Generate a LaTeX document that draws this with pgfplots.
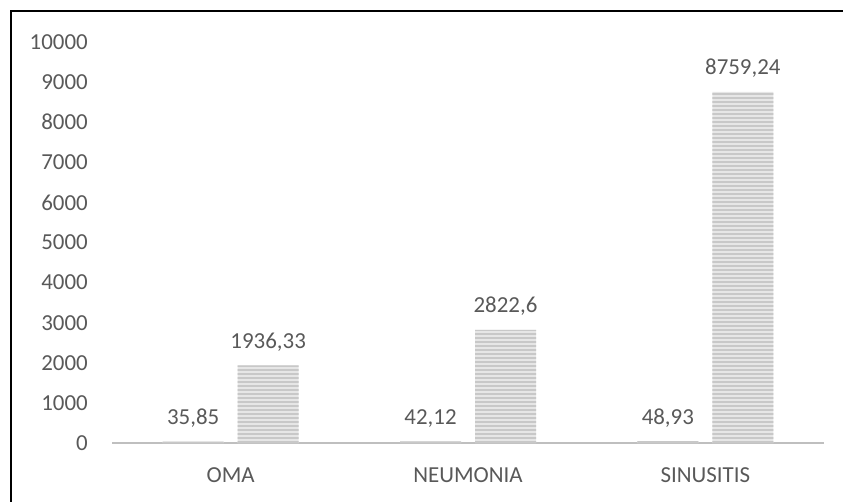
\documentclass[border=0pt]{standalone}
\usepackage{fontspec}
\setmainfont{Carlito}
\usepackage{pgfplots}
\pgfplotsset{compat=1.18}
\usetikzlibrary{patterns.meta}
\definecolor{labelgray}{HTML}{595959}
\definecolor{axisgray}{HTML}{BFBFBF}
\definecolor{barbase}{HTML}{E6E6E6}
\definecolor{barline}{HTML}{C8C8C8}

\begin{document}
\begin{tikzpicture}[font=\fontsize{23}{27.6}\selectfont]
\path[use as bounding box] (0,0) rectangle (843bp,502bp);
% frame
\draw[line width=2.5bp, line join=miter] (11bp,0) -- (11bp,491bp) -- (843bp,491bp);
\begin{axis}[
  at={(112bp,59bp)}, anchor=south west,
  scale only axis, width=712bp, height=401bp,
  ymin=0, ymax=10000, xmin=-0.5, xmax=2.5,
  enlargelimits=false,
  ytick={0,1000,...,10000},
  scaled y ticks=false,
  yticklabel={\pgfmathprintnumber[fixed, precision=0, 1000 sep={}]{\tick}},
  xtick={0,1,2}, xticklabels={OMA,NEUMONIA,SINUSITIS},
  ybar=14bp, bar width=0.257,
  axis x line*=bottom, axis y line*=left,
  x axis line style={draw=axisgray, line width=2.5bp},
  y axis line style={draw=none},
  major tick length=0pt,
  tick style={draw=none},
  tick label style={text=labelgray},
  yticklabel style={anchor=east, inner sep=0pt, xshift=-24bp},
  xticklabel style={anchor=base, inner sep=0pt, yshift=-39bp},
  /pgf/number format/1000 sep={},
  /pgf/number format/assume math mode=true,
  nodes near coords={\pgfmathprintnumber[use comma, precision=2, 1000 sep={}]{\pgfplotspointmeta}},
  every node near coord/.append style={anchor=base, inner sep=0pt, yshift=17bp, text=labelgray},
  clip=false,
]
\addplot[draw=none, fill=barbase,
  postaction={pattern={Lines[angle=0, distance=4bp, line width=1.6bp]}, pattern color=barline}]
  coordinates {(0,35.85) (1,42.12) (2,48.93)};
\addplot[draw=none, fill=barbase,
  postaction={pattern={Lines[angle=0, distance=4bp, line width=1.6bp]}, pattern color=barline}]
  coordinates {(0,1936.33) (1,2822.6) (2,8759.24)};
\end{axis}
\end{tikzpicture}
\end{document}
